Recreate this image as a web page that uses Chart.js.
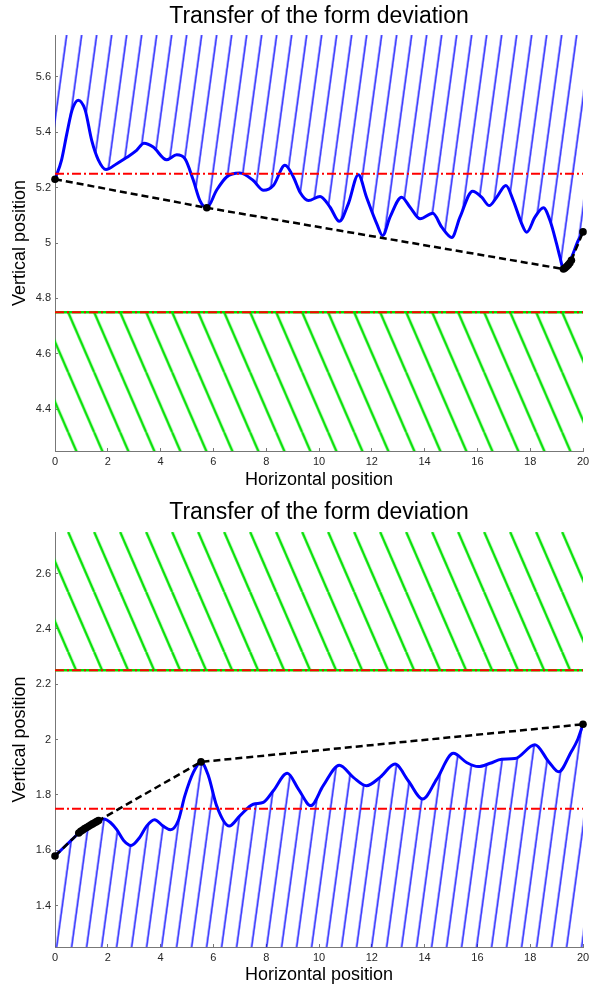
<!DOCTYPE html>
<html>
<head>
<meta charset="utf-8">
<title>Transfer of the form deviation</title>
<script src="https://cdn.jsdelivr.net/npm/chart.js@4.4.1/dist/chart.umd.min.js"></script>
<style>
  html, body { margin: 0; padding: 0; background: #fff; }
  canvas { display: block; }
</style>
</head>
<body>
<canvas id="upper" width="589" height="494"></canvas>
<canvas id="lower" width="589" height="494"></canvas>
<script>
// ---- data ----
var xTicks = [0, 2, 4, 6, 8, 10, 12, 14, 16, 18, 20];

// upper plot: profile, hull, tolerance limits
var upperX = [0, 0.25, 0.44, 0.65, 0.88, 1.14, 1.39, 1.64, 1.93, 2.34, 2.71, 3.09, 3.37, 3.72, 4.23, 4.61,
  4.92, 5.24, 5.49, 5.75, 6.12, 6.5, 7.0, 7.5, 7.9, 8.27, 8.71, 9.03, 9.28, 9.6, 10.04, 10.42, 10.77,
  11.11, 11.49, 11.8, 12.19, 12.41, 12.69, 13.13, 13.45, 13.83, 14.31, 14.65, 15.03, 15.34, 15.82,
  16.16, 16.45, 16.73, 17.08, 17.36, 17.68, 17.87, 18.18, 18.5, 18.75, 19.0, 19.13, 19.26, 19.51, 19.82, 20];
var upperY = [5.23, 5.30, 5.39, 5.48, 5.515, 5.48, 5.37, 5.30, 5.265, 5.286, 5.308, 5.334, 5.36, 5.346, 5.30, 5.318,
  5.304, 5.226, 5.153, 5.127, 5.19, 5.238, 5.252, 5.226, 5.19, 5.207, 5.28, 5.238, 5.183, 5.153, 5.168, 5.129, 5.078,
  5.141, 5.246, 5.165, 5.069, 5.027, 5.093, 5.165, 5.129, 5.087, 5.107, 5.057, 5.02, 5.093, 5.187,
  5.165, 5.135, 5.165, 5.207, 5.153, 5.069, 5.039, 5.093, 5.127, 5.081, 4.997, 4.948, 4.906, 4.936, 5.009, 5.04];
var upperHullX = [0, 5.75, 19.26, 19.32, 19.38, 19.44, 19.5, 19.56, 20];
var upperHullY = [5.23, 5.127, 4.906, 4.910, 4.915, 4.921, 4.928, 4.938, 5.04];
var upperLimits = [5.25, 4.75];
var upperYTicks = [4.4, 4.6, 4.8, 5, 5.2, 5.4, 5.6];

// lower plot
var lowerX = [0, 0.3, 0.63, 0.97, 1.3, 1.63, 1.85, 2.1, 2.34, 2.6, 2.88, 3.2, 3.47, 3.77, 4.1, 4.38, 4.67,
  4.92, 5.24, 5.53, 5.81, 6.12, 6.6, 7.01, 7.51, 7.89, 8.27, 8.8, 9.22, 9.69, 10.16, 10.77, 11.3, 11.8,
  12.31, 12.88, 13.38, 13.93, 14.46, 15.09, 15.59, 16.03, 16.48, 16.92, 17.42, 18.18, 18.7, 19.08,
  19.55, 19.8, 20];
var lowerY = [1.579, 1.607, 1.637, 1.668, 1.688, 1.706, 1.713, 1.70, 1.674, 1.635, 1.617, 1.645, 1.687, 1.71, 1.687, 1.674, 1.707,
  1.797, 1.881, 1.919, 1.869, 1.761, 1.687, 1.725, 1.766, 1.773, 1.815, 1.878, 1.821, 1.761, 1.833, 1.907, 1.863, 1.833,
  1.863, 1.911, 1.851, 1.785, 1.857, 1.95, 1.917, 1.902, 1.914, 1.929, 1.931, 1.981, 1.92, 1.883,
  1.955, 2.0, 2.055];
var lowerHullX = [0, 0.9, 0.975, 1.05, 1.125, 1.2, 1.275, 1.35, 1.425, 1.5, 1.575, 1.65, 5.53, 20];
var lowerHullY = [1.579, 1.662, 1.668, 1.673, 1.678, 1.682, 1.686, 1.691, 1.695, 1.699, 1.703, 1.707, 1.919, 2.055];
var lowerLimits = [2.25, 1.75];
var lowerYTicks = [1.4, 1.6, 1.8, 2, 2.2, 2.4, 2.6];

// ---- styling helpers ----
var FONT = "'Liberation Sans', Arial, Helvetica, sans-serif";

function pts(xs, ys) {
  return xs.map(function (x, i) { return {x: x, y: ys[i]}; });
}

// hatch fill as a repeating canvas pattern, phase anchored in data units
function hatch(spec) {
  return function (ctx) {
    var chart = ctx.chart;
    if (!chart.chartArea || !chart.scales.x) return 'transparent';
    var tile = document.createElement('canvas');
    tile.width = spec.w;
    tile.height = spec.h;
    var t = tile.getContext('2d');
    t.strokeStyle = spec.color;
    t.lineWidth = spec.width;
    for (var k = -1; k <= 1; k++) {
      t.beginPath();
      if (spec.up) {
        t.moveTo(k * spec.w, spec.h);
        t.lineTo(k * spec.w + spec.w, 0);
      } else {
        t.moveTo(k * spec.w, 0);
        t.lineTo(k * spec.w + spec.w, spec.h);
      }
      t.stroke();
    }
    var pat = chart.ctx.createPattern(tile, 'repeat');
    var px = chart.scales.x.getPixelForValue(spec.x0);
    var py = chart.scales.y.getPixelForValue(spec.y0);
    pat.setTransform(new DOMMatrix().translate(px, py));
    return pat;
  };
}

function hline(y, color, width, dash) {
  return {
    data: [{x: 0, y: y}, {x: 20, y: y}],
    borderColor: color, borderWidth: width, borderDash: dash,
    pointRadius: 0, fill: false
  };
}

function makeChart(id, o) {
  var blue = {w: 15, h: 110, color: '#0000ff', width: 1.4, up: true, x0: o.blueAnchor[0], y0: o.blueAnchor[1]};
  var green = {w: 26, h: 60, color: '#00e000', width: 2.4, up: false, x0: o.greenAnchor[0], y0: o.greenAnchor[1]};
  return new Chart(document.getElementById(id), {
    type: 'line',
    data: {
      datasets: [
        {
          data: pts(o.hullX, o.hullY),
          borderColor: '#000', borderWidth: 2.5, borderDash: [7, 4],
          pointRadius: 3.8, pointBackgroundColor: '#000', pointBorderWidth: 0,
          tension: 0, fill: false, clip: 6
        },
        hline(o.limits[0], '#ff0000', 2, [9, 3, 2, 3]),
        hline(o.limits[1], '#ff0000', 2, [9, 3, 2, 3]),
        {
          data: pts(o.curveX, o.curveY),
          borderColor: '#0000ff', borderWidth: 3,
          pointRadius: 0, cubicInterpolationMode: 'monotone',
          fill: o.curveFill, backgroundColor: hatch(blue)
        },
        {
          data: [{x: 0, y: o.greenY}, {x: 20, y: o.greenY}],
          borderColor: '#00e000', borderWidth: 2.5, pointRadius: 0,
          fill: o.greenFill, backgroundColor: hatch(green)
        }
      ]
    },
    options: {
      responsive: false,
      animation: false,
      events: [],
      layout: {padding: {top: 0, right: 6, bottom: 0, left: 0}},
      plugins: {
        legend: {display: false},
        tooltip: {enabled: false},
        title: {
          display: true, fullSize: false,
          text: 'Transfer of the form deviation',
          color: '#000',
          font: {family: FONT, size: 23, weight: 'normal'},
          padding: {top: o.titlePad[0], bottom: o.titlePad[1]}
        }
      },
      scales: {
        x: {
          type: 'linear', min: 0, max: 20,
          afterBuildTicks: function (s) { s.ticks = xTicks.map(function (v) { return {value: v}; }); },
          afterFit: function (s) { s.height = o.xAxisH; s.paddingRight = 6; s.paddingLeft = 0; },
          ticks: {color: '#262626', font: {family: FONT, size: 11}, padding: 7, maxRotation: 0,
            callback: function (v) { return String(v); }},
          grid: {drawOnChartArea: false, tickLength: -3, color: '#777'},
          border: {color: '#777', width: 1},
          title: {display: true, text: 'Horizontal position', color: '#000',
            font: {family: FONT, size: 18}, padding: {top: 0, bottom: o.xTitlePad}}
        },
        y: {
          type: 'linear', min: o.yMin, max: o.yMax,
          afterBuildTicks: function (s) { s.ticks = o.yTicks.map(function (v) { return {value: v}; }); },
          afterFit: function (s) { s.width = 55; },
          ticks: {color: '#262626', font: {family: FONT, size: 11}, padding: 7,
            callback: function (v) { return String(v); }},
          grid: {drawOnChartArea: false, tickLength: -3, color: '#777'},
          border: {color: '#777', width: 1},
          title: {display: true, text: 'Vertical position', color: '#000',
            font: {family: FONT, size: 18}, padding: {top: 9.5, bottom: 0}}
        }
      }
    }
  });
}

makeChart('upper', {
  curveX: upperX, curveY: upperY, hullX: upperHullX, hullY: upperHullY,
  limits: upperLimits, greenY: upperLimits[1], yTicks: upperYTicks,
  yMin: 4.25, yMax: 5.75,
  curveFill: 'end', greenFill: 'start',
  blueAnchor: [0.44, 5.75], greenAnchor: [0.5, 4.75],
  titlePad: [2.4, 5], xAxisH: 43, xTitlePad: 3.5
});

makeChart('lower', {
  curveX: lowerX, curveY: lowerY, hullX: lowerHullX, hullY: lowerHullY,
  limits: lowerLimits, greenY: lowerLimits[0], yTicks: lowerYTicks,
  yMin: 1.25, yMax: 2.75,
  curveFill: 'start', greenFill: 'end',
  blueAnchor: [0.06, 1.25], greenAnchor: [0.5, 2.75],
  titlePad: [4.7, 5.7], xAxisH: 41, xTitlePad: 1.8
});
</script>
</body>
</html>
